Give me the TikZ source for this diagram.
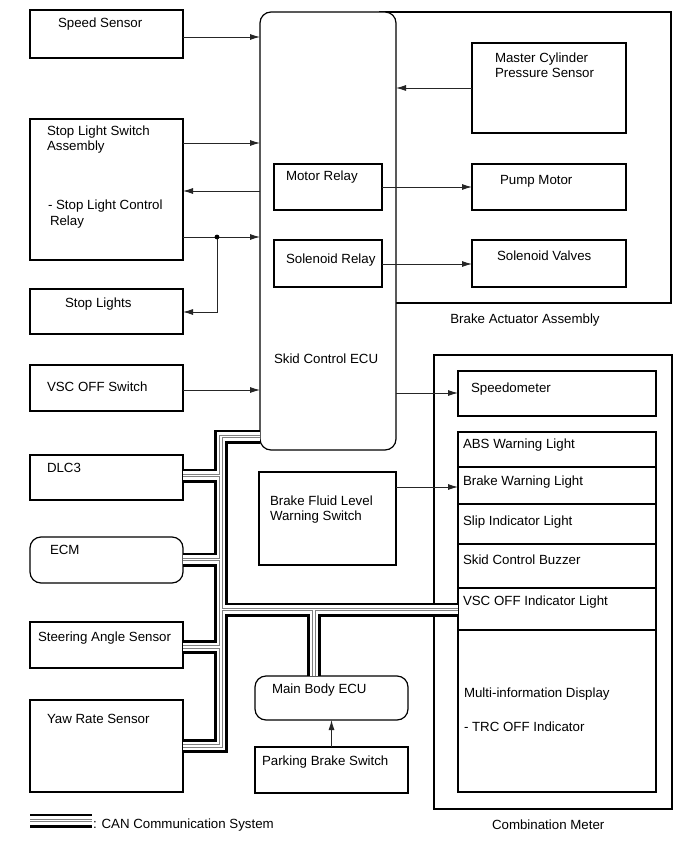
\documentclass[tikz,border=0pt]{standalone}
\usepackage{fontspec}
\setmainfont{Liberation Sans}
\usetikzlibrary{arrows.meta,fit}
\begin{document}
\begin{tikzpicture}[x=1pt,y=-1pt,
  box/.style={draw=black,line width=1.2pt,inner sep=0pt,outer sep=0pt,rectangle},
  rbox/.style={box,rounded corners=11pt},
  txt/.style={anchor=base west,inner sep=0pt,outer sep=0pt,font=\fontsize{13.3}{15}\selectfont},
  ctxt/.style={txt,anchor=base},
  arr/.style={draw=black!85,line width=0.9pt,-{Latex[length=10pt,width=6pt]}},
  ln/.style={draw=black!85,line width=0.9pt},
  divl/.style={draw=black,line width=1.1pt},
]
\useasboundingbox[fill=white] (0,0) rectangle (690,853);

% ---------- brake actuator assembly and skid control ECU
\node[box,fit={(380,12) (671,303)}] (act) {};
\node[rbox,fill=white,fit={(260,12) (396,450)}] (ecu) {};
\node[ctxt] (actT) at (525,323) {Brake Actuator Assembly};
\node[txt] (ecuT) at (274,363) {Skid Control ECU};

\node[box,fit={(274,164) (382,210)}] (motor) {};
\node[txt] (motorT) at (286,180) {Motor Relay};
\node[box,fit={(274,240) (382,287)}] (solr) {};
\node[txt] (solrT) at (286,263) {Solenoid Relay};

\node[box,fit={(472,43) (626,133)}] (mcps) {};
\node[txt] (mcpsT1) at (495,63) {Master Cylinder};
\node[txt] (mcpsT2) at (495,78) {Pressure Sensor};
\node[box,fit={(472,164) (626,210)}] (pump) {};
\node[txt] (pumpT) at (500,185) {Pump Motor};
\node[box,fit={(472,240) (626,287)}] (solv) {};
\node[txt] (solvT) at (497,260) {Solenoid Valves};

% ---------- left column
\node[box,fit={(30,10) (183,58)}] (speed) {};
\node[txt] (speedT) at (58,28) {Speed Sensor};
\node[box,fit={(30,119) (183,260)}] (sls) {};
\node[txt] (slsT1) at (47,135.5) {Stop Light Switch};
\node[txt] (slsT2) at (47,150.5) {Assembly};
\node[txt] (slsT3) at (48,209.5) {- Stop Light Control};
\node[txt] (slsT4) at (50,225) {Relay};
\node[box,fit={(30,289) (183,334)}] (stopl) {};
\node[txt] (stoplT) at (65,307.5) {Stop Lights};
\node[box,fit={(30,365) (183,411)}] (vscsw) {};
\node[txt] (vscswT) at (47,391) {VSC OFF Switch};
\node[box,fit={(30,455) (183,500)}] (dlc) {};
\node[txt] (dlcT) at (47,472) {DLC3};
\node[rbox,fit={(30,537) (183,583)}] (ecm) {};
\node[txt] (ecmT) at (50,554) {ECM};
\node[box,fit={(30,622) (183,668)}] (steer) {};
\node[txt] (steerT) at (38,641) {Steering Angle Sensor};
\node[box,fit={(30,700) (183,792)}] (yaw) {};
\node[txt] (yawT) at (47,723) {Yaw Rate Sensor};

% ---------- middle lower
\node[box,fit={(259,472) (396,565)}] (bfl) {};
\node[txt] (bflT1) at (270,505) {Brake Fluid Level};
\node[txt] (bflT2) at (270,520.5) {Warning Switch};
\node[rbox,fit={(255,676) (408,720)}] (mbe) {};
\node[txt] (mbeT) at (272,693) {Main Body ECU};
\node[box,fit={(255,747) (408,793)}] (pbs) {};
\node[txt] (pbsT) at (262,765) {Parking Brake Switch};

% ---------- combination meter
\node[box,fit={(434,355) (672,809)}] (comb) {};
\node[txt] (combT) at (492,829) {Combination Meter};
\node[box,fill=white,fit={(458,371) (656,416)}] (spd) {};
\node[txt] (spdT) at (471,392.5) {Speedometer};
\node[box,fill=white,fit={(458,432) (656,792)}] (stack) {};
\foreach \yy in {467,504,544,588,630}
  \draw[divl] (stack.west |- 0,\yy) -- (stack.east |- 0,\yy);
\node[txt] (absT) at (463,448.5) {ABS Warning Light};
\node[txt] (bwlT) at (463,485) {Brake Warning Light};
\node[txt] (slipT) at (463,525) {Slip Indicator Light};
\node[txt] (buzT) at (463,564.5) {Skid Control Buzzer};
\node[txt] (vscT) at (463,605) {VSC OFF Indicator Light};
\node[txt] (midT1) at (464,697) {Multi-information Display};
\node[txt] (midT2) at (464,731) {- TRC OFF Indicator};

% ---------- signal connectors
\draw[arr] (speed.east |- 0,37) -- (ecu.west |- 0,37);
\draw[arr] (sls.east |- 0,143) -- (ecu.west |- 0,143);
\draw[arr] (ecu.west |- 0,191) -- (sls.east |- 0,191);
\coordinate (dot) at (217,237);
\draw[arr] (sls.east |- 0,237) -- (ecu.west |- 0,237);
\draw[arr] (dot) -- (dot |- 0,312) -- (stopl.east |- 0,312);
\fill[black] (dot) circle (2.4);
\draw[arr] (vscsw.east |- 0,390) -- (ecu.west |- 0,390);
\draw[arr] (mcps.west |- 0,88) -- (ecu.east |- 0,88);
\draw[arr] (motor.east |- 0,187) -- (pump.west |- 0,187);
\draw[arr] (solr.east |- 0,264) -- (solv.west |- 0,264);
\draw[arr] (ecu.east |- 0,393) -- (spd.west |- 0,393);
\draw[arr] (bfl.east |- 0,487) -- (stack.west |- 0,487);
\draw[arr] (pbs.north) -- (mbe.south);

% ---------- CAN bus
\coordinate (b1) at (221,436.5);
\coordinate (b2) at (221,746);
\coordinate (h1) at (221,609.5);
\coordinate (m1) at (314,609.5);
\foreach \w/\c in {14/black,8.6/white,3.6/black!50,1.2/white}{
  \draw[line width=\w pt,\c] (ecu.west |- b1) -- (b1) -- (b2) -- (yaw.east |- b2);
  \draw[line width=\w pt,\c] (dlc.east |- 0,475.5) -- (b1 |- 0,475.5);
  \draw[line width=\w pt,\c] (ecm.east |- 0,559.5) -- (b1 |- 0,559.5);
  \draw[line width=\w pt,\c] (steer.east |- 0,647) -- (b1 |- 0,647);
  \draw[line width=\w pt,\c] (h1) -- (stack.west |- h1);
  \draw[line width=\w pt,\c] (m1) -- (mbe.north -| m1);
  \draw[line width=\w pt,\c] (30,820.5) coordinate (legA) -- (92,820.5) coordinate (legB);
}
\node[txt] (legT) at (93,828) {: CAN Communication System};
\end{tikzpicture}
\end{document}
